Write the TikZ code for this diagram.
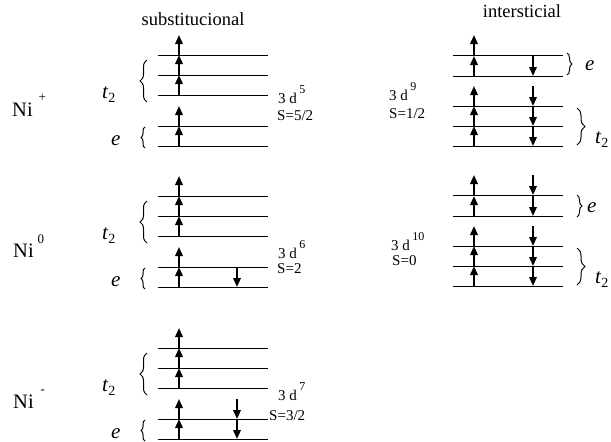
\documentclass[tikz,border=0pt]{standalone}
\usepackage{fontspec}
\setmainfont{Liberation Serif}
\usepackage{tikz}
\usetikzlibrary{arrows.meta, decorations.pathreplacing}

\newcommand{\tg}{\textit{t}\raisebox{-4pt}{\fontsize{14}{14}\selectfont 2}}
\newcommand{\dconf}[1]{3 d\hspace{2.5pt}\raisebox{9.5pt}{\fontsize{12}{12}\selectfont #1}}

\begin{document}
\begin{tikzpicture}[x=1pt, y=-1pt,
      lvl/.style={line width=0.9pt},
      spin/.style={line width=1.9pt, -{Triangle[width=7.5pt, length=9pt]}},
      ttl/.style={font=\fontsize{18.5}{18.5}\selectfont, anchor=base, inner sep=0pt},
      ion/.style={font=\fontsize{20.5}{20.5}\selectfont, anchor=base west, inner sep=0pt},
      cfg/.style={font=\fontsize{15}{15}\selectfont, anchor=base west, inner sep=0pt},
      orb/.style={font=\fontsize{21}{21}\selectfont, anchor=base west, inner sep=0pt},
      brc/.style={decorate, decoration={brace, amplitude=#1}, line width=1pt}]

    \useasboundingbox (0,0) rectangle (611,442);

    \node[ttl] (subst) at (193,25) {substitucional};
    \node[ttl] (inter) at (522,17) {intersticial};

    \foreach \i/\yy in {1/55, 2/196, 3/348} {
      \foreach \dy in {0,20,40,71,91} {
        \draw[lvl] (158,\yy+\dy) -- (268,\yy+\dy);
        \draw[spin] (179,\yy+\dy) -- (179,\yy+\dy-20);
      }
      \draw[brc=7pt] (147,\yy+47) -- (147,\yy+5);
      \draw[brc=4pt] (145,\yy+93) -- (145,\yy+72);
      \node[orb] (tl\i) at (102,\yy+43) {\tg};
      \node[orb] (el\i) at (111,\yy+90) {\textit{e}};
    }
    \draw[spin] (237,267) -- (237,287);
    \foreach \y in {419,439}
      \draw[spin] (237,\y-20) -- (237,\y);

    \node[ion] (ni1) at (12,116) {Ni\hspace{6pt}\raisebox{15pt}{\fontsize{13}{13}\selectfont +}};
    \node[ion] (ni2) at (13,257) {Ni\hspace{4pt}\raisebox{14pt}{\fontsize{13}{13}\selectfont 0}};
    \node[ion] (ni3) at (13,408) {Ni\hspace{7pt}\raisebox{15pt}{\fontsize{13}{13}\selectfont -}};

    \node[cfg] (d5) at (278,103) {\dconf{5}};
    \node[cfg] (s5) at (277,120) {S=5/2};
    \node[cfg] (d6) at (278,258) {\dconf{6}};
    \node[cfg] (s6) at (277,273) {S=2};
    \node[cfg] (d7) at (278,400) {\dconf{7}};
    \node[cfg] (s7) at (269,420) {S=3/2};

    \foreach \i/\yy in {1/55, 2/195} {
      \foreach \dy in {0,21,51,71,91} {
        \draw[lvl] (453,\yy+\dy) -- (563,\yy+\dy);
        \draw[spin] (474,\yy+\dy) -- (474,\yy+\dy-20);
      }
      \foreach \dy in {21,51,71,91}
        \draw[spin] (533,\yy+\dy-20) -- (533,\yy+\dy);
      \draw[brc=8pt] (577,\yy+53) -- (577,\yy+90);
      \node[orb] (tr\i) at (595,\yy+88) {\tg};
    }
    \draw[spin] (533,175) -- (533,195);

    \draw[brc=5pt] (567,53) -- (567,75);
    \node[orb] (er1) at (585,70) {\textit{e}};
    \draw[brc=5pt] (577,195) -- (577,217);
    \node[orb] (er2) at (587,212) {\textit{e}};

    \node[cfg] (d9) at (389,100) {\dconf{9}};
    \node[cfg] (s9) at (389,118) {S=1/2};
    \node[cfg] (d10) at (391,250) {\dconf{10}};
    \node[cfg] (s10) at (392,265) {S=0};
  \end{tikzpicture}
\end{document}
